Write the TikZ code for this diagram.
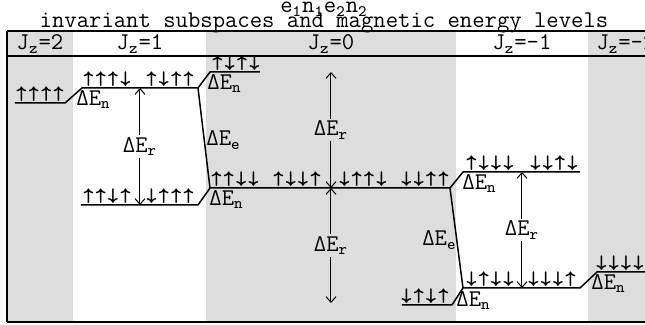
\documentclass[tikz,border=0pt]{standalone}
\usepackage{fontspec}
\usetikzlibrary{arrows.meta}
\definecolor{colgrey}{RGB}{221,221,221}

\begin{document}
\begin{tikzpicture}[
  x=0.5pt, y=-0.5pt,
  txt/.style={font=\ttfamily\fontsize{12}{14}\selectfont, inner sep=0pt},
  spins/.style={txt, anchor=base},
  lvl/.style={line width=0.75pt, line join=round},
  rule/.style={line width=0.6pt},
  dEr/.style={line width=0.5pt,
              {Straight Barb[length=2.8pt,width=5pt]}-{Straight Barb[length=2.8pt,width=5pt]}},
  lblr/.style={txt, inner sep=1pt, fill=#1},
  dEn/.style={txt, anchor=north west},
]
\useasboundingbox (0,0) rectangle (645,325);
\clip (0,0) rectangle (645,325);

% shaded J_z columns
\fill[colgrey] (7,31) rectangle (73,322);
\fill[colgrey] (206,31) rectangle (456,322);
\fill[colgrey] (588,31) rectangle (660,322);

% titles
\node[txt, anchor=base] (ttl1) at (324,13)
  {e\textsubscript{1}n\textsubscript{1}e\textsubscript{2}n\textsubscript{2}};
\node[txt, anchor=base] (ttl2) at (324,28)
  {invariant subspaces and magnetic energy levels};

% frame
\coordinate (tl) at (7,31);   \coordinate (tr) at (660,31);
\coordinate (hl) at (7,56);   \coordinate (hr) at (660,56);
\coordinate (bl) at (7,322);  \coordinate (br) at (660,322);
\draw[rule] (tl) -- (tr);
\draw[rule] (hl) -- (hr);
\draw[rule] (tl) -- (bl);
\draw[line width=1pt] (bl) -- (br);

% header
\node[txt, anchor=base] (hz2)  at (40,50)  {J\textsubscript{z}=2};
\node[txt, anchor=base] (hz1)  at (140,50) {J\textsubscript{z}=1};
\node[txt, anchor=base] (hz0)  at (331,50) {J\textsubscript{z}=0};
\node[txt, anchor=base] (hzm1) at (522,50) {J\textsubscript{z}=-1};
\node[txt, anchor=base] (hzm2) at (626,50) {J\textsubscript{z}=-2};

% level end points
\coordinate (l2a)   at (15,103);  \coordinate (l2b)   at (65,103);
\coordinate (l1ua)  at (82,88);   \coordinate (l1ub)  at (198,88);
\coordinate (l0ua)  at (210,72);  \coordinate (l0ub)  at (260,72);
\coordinate (l1la)  at (81,205);  \coordinate (l1lb)  at (198,205);
\coordinate (l0a)   at (210,188); \coordinate (l0b)   at (450,188);
\coordinate (lm1ua) at (463,172); \coordinate (lm1ub) at (580,172);
\coordinate (l0la)  at (402,305); \coordinate (l0lb)  at (452,305);
\coordinate (lm1la) at (463,288); \coordinate (lm1lb) at (580,288);
\coordinate (lm2a)  at (597,272); \coordinate (lm2b)  at (660,272);

% levels
\draw[lvl] (l2a) -- (l2b) -- (l1ua) -- (l1ub) -- (l0ua) -- (l0ub);
\draw[lvl] (l1ub) -- (l0a);
\draw[lvl] (l1la) -- (l1lb) -- (l0a) -- (l0b) -- (lm1ua) -- (lm1ub);
\draw[lvl] (l0b) -- (lm1la);
\draw[lvl] (l0la) -- (l0lb) -- (lm1la) -- (lm1lb) -- (lm2a) -- (lm2b);

% spin states
\foreach \x/\y/\s [count=\i] in {
    40/103/↑↑↑↑,
    107/88/↑↑↑↓, 170/88/↑↓↑↑, 236/72/↑↓↑↓,
    107/205/↑↑↓↑, 170/205/↓↑↑↑,
    235/188/↑↑↓↓, 297/188/↑↓↓↑, 363/188/↓↑↑↓, 425/188/↓↓↑↑,
    490/172/↑↓↓↓, 554/172/↓↓↑↓,
    425/305/↓↑↓↑, 490/288/↓↑↓↓, 552/288/↓↓↓↑,
    620/272/↓↓↓↓}
  \node[spins] (s\i) at (\x,\y-1) {\s};

% rotational splittings
\coordinate (r1t)  at (140,88);  \coordinate (r1b)  at (140,205);
\coordinate (r0t)  at (331,72);  \coordinate (r0m)  at (331,188);
\coordinate (r0b)  at (331,303);
\coordinate (rm1t) at (522,172); \coordinate (rm1b) at (522,288);
\draw[dEr] (r1b) -- node[lblr=white] (dr1) {ΔE\textsubscript{r}} (r1t);
\draw[dEr] (r0m) -- node[lblr=colgrey] (dr0u) {ΔE\textsubscript{r}} (r0t);
\draw[dEr] (r0m) -- node[lblr=colgrey] (dr0d) {ΔE\textsubscript{r}} (r0b);
\draw[dEr] (rm1b) -- node[lblr=white] (drm1) {ΔE\textsubscript{r}} (rm1t);

% exchange splittings
\node[txt, anchor=west] (de1) at (206,140) {ΔE\textsubscript{e}};
\node[txt, anchor=east] (de2) at (457,240) {ΔE\textsubscript{e}};

% nuclear splittings
\node[dEn] (dn1) at (76,90)   {ΔE\textsubscript{n}};
\node[dEn] (dn2) at (207,74)  {ΔE\textsubscript{n}};
\node[dEn] (dn3) at (209,190) {ΔE\textsubscript{n}};
\node[dEn] (dn4) at (462,174) {ΔE\textsubscript{n}};
\node[dEn] (dn5) at (456,291) {ΔE\textsubscript{n}};
\node[dEn] (dn6) at (591,274) {ΔE\textsubscript{n}};
\end{tikzpicture}
\end{document}
